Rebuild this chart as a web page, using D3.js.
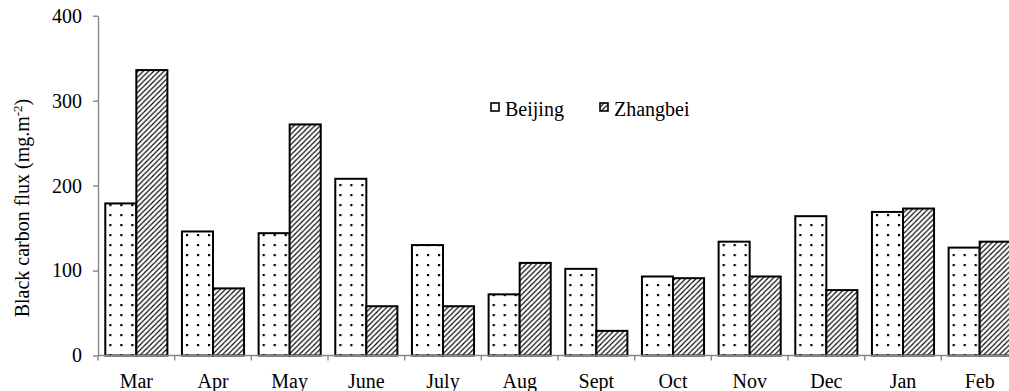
<!DOCTYPE html>
<html>
<head>
<meta charset="utf-8">
<script src="https://cdn.jsdelivr.net/npm/d3@7"></script>
<style>
  html, body { margin: 0; padding: 0; background: #fff; }
  svg { display: block; }
  text { font-family: "Liberation Serif", "Times New Roman", serif; fill: #000; }
</style>
</head>
<body>
<svg id="chart" width="1009" height="391"></svg>
<script>
// Monthly black carbon flux at two sites
const months = ["Mar", "Apr", "May", "June", "July", "Aug", "Sept", "Oct", "Nov", "Dec", "Jan", "Feb"];
const seriesNames = ["Beijing", "Zhangbei"];
const beijing = [179, 146, 144, 208, 130, 72, 102, 93, 134, 164, 169, 127];
const zhangbei = [336, 79, 272, 58, 58, 109, 29, 91, 93, 77, 173, 134];
const yTicks = [0, 100, 200, 300, 400];

const svg = d3.select("#chart");
const fontSize = 20;
const axisColor = "#868686";

// Fill patterns: dotted grid for Beijing, diagonal hatch for Zhangbei
const defs = svg.append("defs");
const dots = defs.append("pattern")
  .attr("id", "pat-dots").attr("patternUnits", "userSpaceOnUse")
  .attr("width", 11).attr("height", 10);
dots.append("rect").attr("width", 11).attr("height", 10).attr("fill", "#fff");
dots.append("rect").attr("x", 4).attr("y", 4).attr("width", 2.2).attr("height", 2.2).attr("fill", "#000");

const hs = 5.2;
const hatch = defs.append("pattern")
  .attr("id", "pat-hatch").attr("patternUnits", "userSpaceOnUse")
  .attr("width", hs).attr("height", hs);
hatch.append("rect").attr("width", hs).attr("height", hs).attr("fill", "#fff");
hatch.append("path")
  .attr("d", `M-1,1 L1,-1 M0,${hs} L${hs},0 M${hs - 1},${hs + 1} L${hs + 1},${hs - 1}`)
  .attr("stroke", "#000").attr("stroke-width", 1.1);

const fills = { Beijing: "url(#pat-dots)", Zhangbei: "url(#pat-hatch)" };

// Scales
const x0 = d3.scaleBand().domain(months).range([98, 1018])
  .paddingInner(0.19).paddingOuter(0.095);
const x1 = d3.scaleBand().domain(seriesNames).range([0, x0.bandwidth()]);
const y = d3.scaleLinear().domain([0, 400]).range([355.5, 15.7]);

const rows = months.map((m, i) => ({ month: m, values: [
  { key: "Beijing", value: beijing[i] },
  { key: "Zhangbei", value: zhangbei[i] }
]}));

// Bars
const groups = svg.append("g").selectAll("g").data(rows).join("g")
  .attr("transform", d => `translate(${x0(d.month)},0)`);
groups.selectAll("rect").data(d => d.values).join("rect")
  .attr("x", d => x1(d.key))
  .attr("y", d => y(d.value))
  .attr("width", x1.bandwidth())
  .attr("height", d => y(0) - y(d.value))
  .attr("fill", d => fills[d.key])
  .attr("stroke", "#000").attr("stroke-width", 2);

// Y axis
const yAxis = svg.append("g").attr("transform", "translate(98,0)")
  .call(d3.axisLeft(y).tickValues(yTicks).tickSize(5).tickSizeOuter(0).tickPadding(11));
yAxis.select(".domain").attr("stroke", axisColor).attr("stroke-width", 1.4);
yAxis.selectAll(".tick line").attr("stroke", axisColor).attr("stroke-width", 1.4);
yAxis.selectAll(".tick text").attr("font-size", fontSize)
  .attr("font-family", "Liberation Serif, Times New Roman, serif").attr("fill", "#000");

// X axis line with boundary ticks between months
const xAxis = svg.append("g").attr("transform", `translate(0,${y(0)})`);
xAxis.append("line")
  .attr("x1", 98).attr("x2", 1018)
  .attr("stroke", axisColor).attr("stroke-width", 1.4);
const bounds = d3.range(months.length + 1).map(i => x0.range()[0] + i * x0.step());
xAxis.selectAll(".bound").data(bounds).join("line").attr("class", "bound")
  .attr("x1", d => d).attr("x2", d => d).attr("y1", 0).attr("y2", 5)
  .attr("stroke", axisColor).attr("stroke-width", 1.4);

const xLabels = svg.append("g").attr("transform", `translate(0,${y(0)})`)
  .call(d3.axisBottom(x0).tickSize(0).tickPadding(18));
xLabels.select(".domain").remove();
xLabels.selectAll(".tick text").attr("font-size", fontSize)
  .attr("font-family", "Liberation Serif, Times New Roman, serif").attr("fill", "#000");

// Y axis title
const yTitle = svg.append("text")
  .attr("transform", "translate(29,208) rotate(-90)")
  .attr("text-anchor", "middle").attr("font-size", fontSize);
yTitle.append("tspan").text("Black carbon flux (mg.m");
yTitle.append("tspan").attr("dy", -7).attr("font-size", 13).text("-2");
yTitle.append("tspan").attr("dy", 7).text(")");

// Legend
const legendItems = [
  { key: "Beijing", box: 491, text: 505 },
  { key: "Zhangbei", box: 600, text: 614 }
];
const legend = svg.append("g");
legend.selectAll("rect").data(legendItems).join("rect")
  .attr("x", d => d.box).attr("y", 103).attr("width", 8).attr("height", 8)
  .attr("fill", d => fills[d.key]).attr("stroke", "#000").attr("stroke-width", 1.6);
legend.selectAll("text").data(legendItems).join("text")
  .attr("x", d => d.text).attr("y", 116).attr("font-size", fontSize)
  .text(d => d.key);
</script>
</body>
</html>
